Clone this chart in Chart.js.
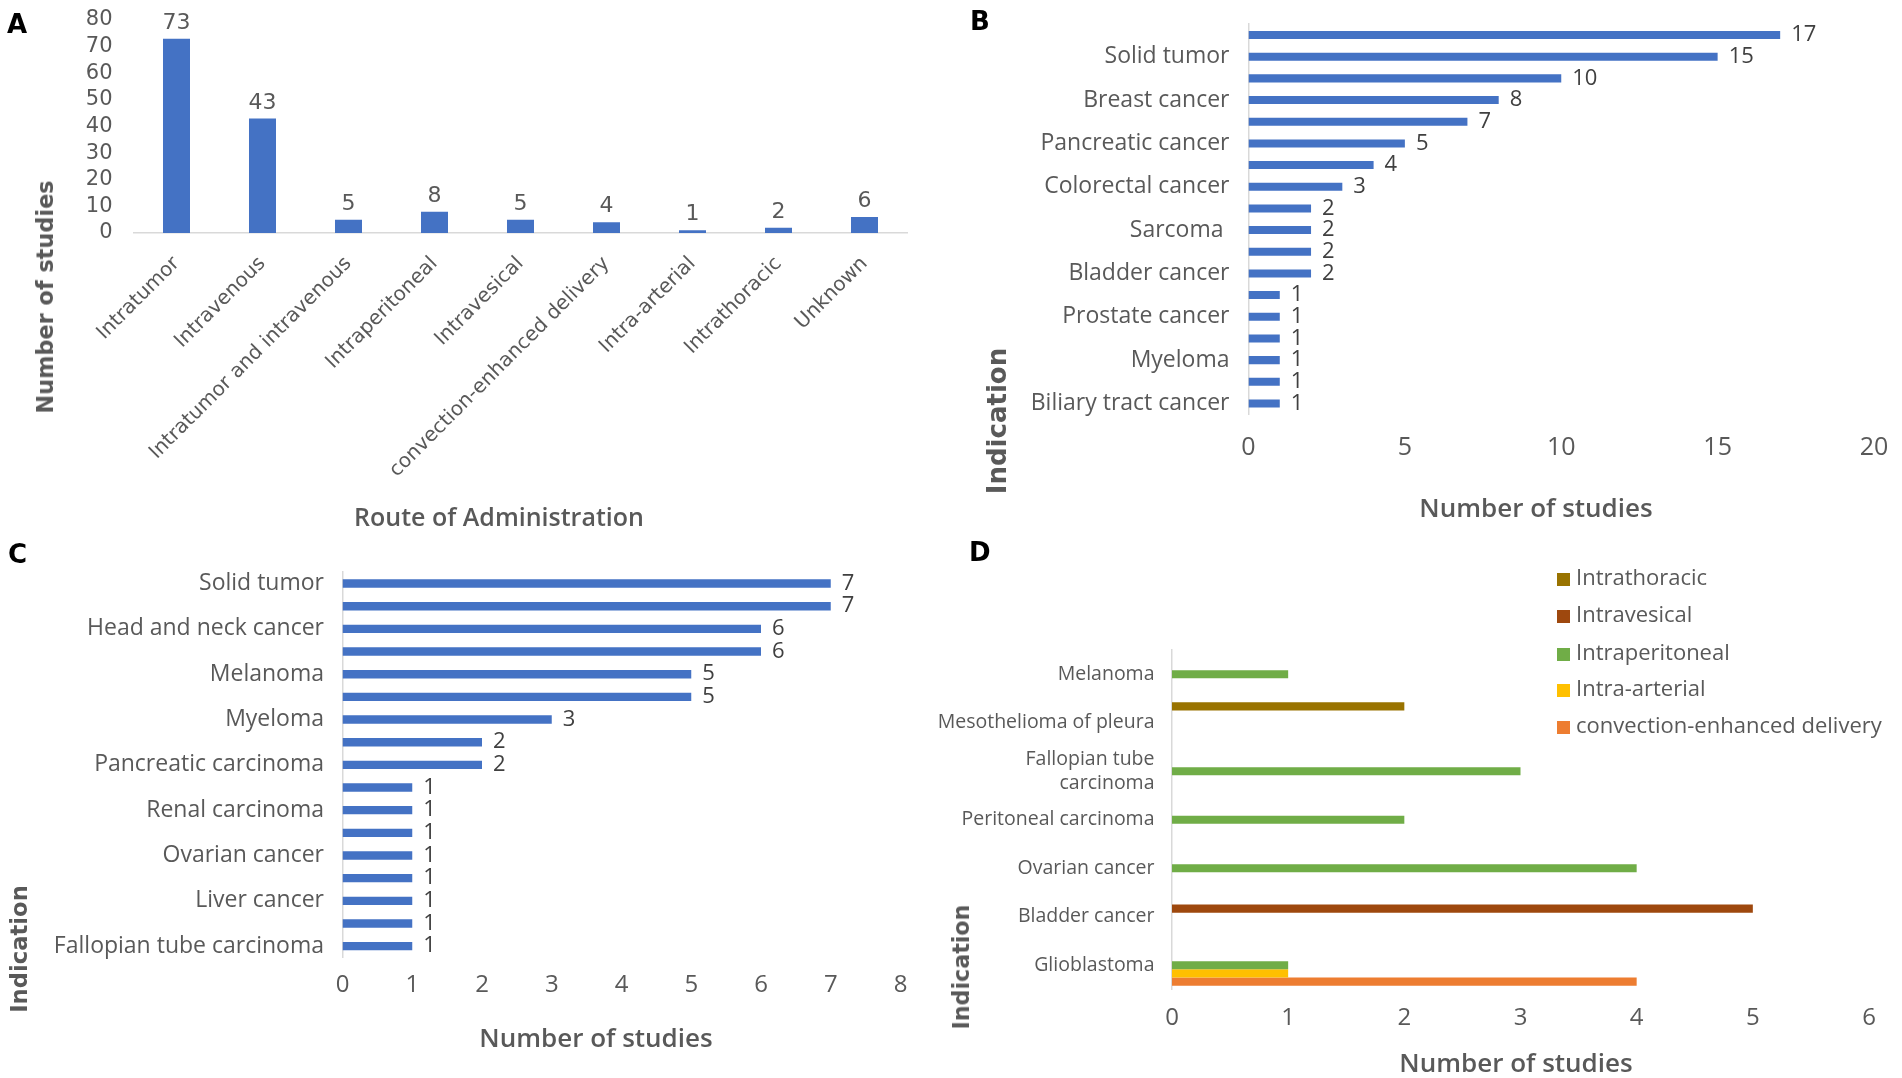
<!DOCTYPE html>
<html>
<head>
<meta charset="utf-8">
<script src="https://cdn.jsdelivr.net/npm/chart.js@4.4.1/dist/chart.umd.min.js"></script>
<style>
  body { margin: 0; background: #fff; width: 1902px; height: 1078px; position: relative; overflow: hidden; color: #595959; }
  canvas { position: absolute; }
  .letter { position: absolute; font: bold 26px "DejaVu Sans", sans-serif; color: #000; line-height: 1; }
  .t { position: absolute; white-space: nowrap; line-height: 1; transform: translate(-50%, -50%); }
  .xt { font: 600 26px "Open Sans", sans-serif; }
  .yt { font: bold 23px "DejaVu Sans", sans-serif; transform: translate(-50%, -50%) rotate(-90deg); }
  #legend { position: absolute; left: 1557px; top: 0; font: 22px "Open Sans", sans-serif; }
  #legend div { position: absolute; white-space: nowrap; line-height: 1; transform: translateY(-50%); }
  #legend span { display: inline-block; width: 13px; height: 13px; margin-right: 6px; vertical-align: -1px; }
</style>
</head>
<body>
<canvas id="chartA" width="950" height="540" style="left:0;top:0"></canvas>
<canvas id="chartB" width="951" height="540" style="left:951px;top:0"></canvas>
<canvas id="chartC" width="950" height="538" style="left:0;top:540px"></canvas>
<canvas id="chartD" width="1002" height="538" style="left:900px;top:540px"></canvas>

<div class="letter" style="left:7px;top:11px">A</div>
<div class="letter" style="left:970px;top:8px">B</div>
<div class="letter" style="left:8px;top:541px">C</div>
<div class="letter" style="left:969px;top:539px">D</div>

<div class="t yt" style="left:45px;top:297px;font-size:22.4px">Number of studies</div>
<div class="t xt" style="left:499px;top:516px;font-size:25px">Route of Administration</div>
<div class="t yt" style="left:997px;top:421px;font-size:26px">Indication</div>
<div class="t xt" style="left:1536px;top:507px">Number of studies</div>
<div class="t yt" style="left:19px;top:949px;font-size:22.7px">Indication</div>
<div class="t xt" style="left:596px;top:1037px">Number of studies</div>
<div class="t yt" style="left:961px;top:967px;font-size:22.2px">Indication</div>
<div class="t xt" style="left:1516px;top:1062px">Number of studies</div>
<div id="legend"></div>

<script>
// A: route of administration
const routeLabels = ['Intratumor', 'Intravenous', 'Intratumor and intravenous', 'Intraperitoneal', 'Intravesical',
  'convection-enhanced delivery', 'Intra-arterial', 'Intrathoracic', 'Unknown'];
const routeCounts = [73, 43, 5, 8, 5, 4, 1, 2, 6];

// B: indications, all studies (only every other label is printed in the figure)
const allLabels = ['', 'Solid tumor', '', 'Breast cancer', '', 'Pancreatic cancer', '', 'Colorectal cancer', '',
  'Sarcoma ', '', 'Bladder cancer', '', 'Prostate cancer', '', 'Myeloma', '', 'Biliary tract cancer'];
const allCounts = [17, 15, 10, 8, 7, 5, 4, 3, 2, 2, 2, 2, 1, 1, 1, 1, 1, 1];

// C: indications, intratumor and intravenous
const combLabels = ['Solid tumor', '', 'Head and neck cancer', '', 'Melanoma', '', 'Myeloma', '', 'Pancreatic carcinoma',
  '', 'Renal carcinoma', '', 'Ovarian cancer', '', 'Liver cancer', '', 'Fallopian tube carcinoma'];
const combCounts = [7, 7, 6, 6, 5, 5, 3, 2, 2, 1, 1, 1, 1, 1, 1, 1, 1];

// D: indications by local route
const localLabels = ['Melanoma', 'Mesothelioma of pleura', ['Fallopian tube', 'carcinoma'], 'Peritoneal carcinoma',
  'Ovarian cancer', 'Bladder cancer', 'Glioblastoma'];
const localRoutes = ['Intrathoracic', 'Intravesical', 'Intraperitoneal', 'Intra-arterial', 'convection-enhanced delivery'];
const intrathoracic = [null, 2, null, null, null, null, null];
const intravesical = [null, null, null, null, null, 5, null];
const intraperitoneal = [1, null, 3, 2, 4, null, 1];
const intraArterial = [null, null, null, null, null, null, 1];
const convectionEnhanced = [null, null, null, null, null, null, 4];
const routeColors = ['#997300', '#9E480E', '#70AD47', '#FFC000', '#ED7D31'];

const BLUE = '#4472C4';
const GREY = '#595959';
const LINE = '#D9D9D9';

// draws the number at the end of every bar
const valueLabels = {
  id: 'valueLabels',
  afterDatasetsDraw(chart, args, opts) {
    const ctx = chart.ctx;
    const horizontal = chart.options.indexAxis === 'y';
    ctx.save();
    ctx.font = opts.font;
    ctx.fillStyle = opts.color;
    chart.data.datasets.forEach((ds, i) => {
      chart.getDatasetMeta(i).data.forEach((bar, j) => {
        const v = ds.data[j];
        if (v == null) return;
        if (horizontal) {
          ctx.textAlign = 'left';
          ctx.textBaseline = 'middle';
          ctx.fillText(v, bar.x + opts.offset, bar.y);
        } else {
          ctx.textAlign = 'center';
          ctx.textBaseline = 'alphabetic';
          ctx.fillText(v, bar.x, bar.y - opts.offset);
        }
      });
    });
    ctx.restore();
  }
};

Chart.defaults.color = GREY;
Chart.defaults.animation = false;
Chart.defaults.plugins.legend.display = false;
Chart.defaults.plugins.tooltip.enabled = false;

// pin axis sizes so the plot areas land where they are in the figure
function fixWidth(w) { return s => { s.width = w; s.paddingTop = 0; s.paddingBottom = 0; }; }
function fixHeight(h) { return s => { s.height = h; s.paddingLeft = 0; s.paddingRight = 0; }; }

// A
new Chart(document.getElementById('chartA'), {
  type: 'bar',
  data: { labels: routeLabels, datasets: [{ data: routeCounts, backgroundColor: BLUE, barPercentage: 0.314, categoryPercentage: 1 }] },
  plugins: [valueLabels],
  options: {
    responsive: false,
    layout: { padding: { top: 20, right: 42.5, bottom: 0, left: 0 } },
    plugins: { valueLabels: { font: '22px "DejaVu Sans"', color: GREY, offset: 10 } },
    scales: {
      x: {
        grid: { display: false },
        border: { display: true, color: LINE, width: 1.5 },
        ticks: { minRotation: 45, maxRotation: 45, padding: 11, font: { family: 'DejaVu Sans', size: 20 }, color: GREY },
        afterFit: fixHeight(307)
      },
      y: {
        min: 0, max: 80,
        grid: { display: false },
        border: { display: false },
        ticks: { stepSize: 10, autoSkip: false, padding: 13, font: { family: 'DejaVu Sans', size: 21 }, color: GREY },
        afterFit: fixWidth(133.5)
      }
    }
  }
});

function horizontalBars(id, labels, counts, o) {
  return new Chart(document.getElementById(id), {
    type: 'bar',
    data: { labels: labels, datasets: [{ data: counts, backgroundColor: BLUE, barPercentage: 0.37, categoryPercentage: 1 }] },
    plugins: [valueLabels],
    options: {
      indexAxis: 'y',
      responsive: false,
      layout: { padding: { top: o.top, right: o.right, bottom: 0, left: 0 } },
      plugins: { valueLabels: { font: '22px "Open Sans"', color: '#404040', offset: 11 } },
      scales: {
        x: {
          min: 0, max: o.max,
          grid: { display: false },
          border: { display: false },
          ticks: { stepSize: o.step, padding: o.xPad, font: { family: 'Open Sans', size: o.tickSize }, color: GREY },
          afterFit: fixHeight(o.xHeight)
        },
        y: {
          grid: { display: false },
          border: { display: true, color: LINE, width: 1.5 },
          ticks: { autoSkip: false, padding: o.yPad, font: { family: 'Open Sans', size: 23 }, color: GREY },
          afterFit: fixWidth(o.left)
        }
      }
    }
  });
}

// B
horizontalBars('chartB', allLabels, allCounts,
  { top: 24.2, right: 28, left: 297.5, xHeight: 125.7, max: 20, step: 5, xPad: 10.5, yPad: 11, tickSize: 25 });

// C
horizontalBars('chartC', combLabels, combCounts,
  { top: 32.2, right: 49.5, left: 342.5, xHeight: 120.5, max: 8, step: 1, xPad: 5, yPad: 10.5, tickSize: 24 });

// D
const localSeries = [intrathoracic, intravesical, intraperitoneal, intraArterial, convectionEnhanced];
new Chart(document.getElementById('chartD'), {
  type: 'bar',
  data: {
    labels: localLabels,
    datasets: localSeries.map((d, i) => ({
      label: localRoutes[i], data: d, backgroundColor: routeColors[i], barPercentage: 1, categoryPercentage: 0.85
    }))
  },
  options: {
    indexAxis: 'y',
    responsive: false,
    layout: { padding: { top: 110, right: 33, bottom: 0, left: 0 } },
    scales: {
      x: {
        min: 0, max: 6,
        grid: { display: false },
        border: { display: false },
        ticks: { stepSize: 1, padding: 6, font: { family: 'Open Sans', size: 24 }, color: GREY },
        afterFit: fixHeight(88.5)
      },
      y: {
        grid: { display: false },
        border: { display: true, color: LINE, width: 1.5 },
        ticks: { autoSkip: false, padding: 9.5, font: { family: 'Open Sans', size: 19.5 }, color: GREY },
        afterFit: fixWidth(272)
      }
    }
  }
});

// legend for D, built from the same series names and colours
const legendY = [576, 613, 651, 687, 724];
const legend = document.getElementById('legend');
localRoutes.forEach((name, i) => {
  const item = document.createElement('div');
  item.style.top = legendY[i] + 'px';
  item.innerHTML = '<span style="background:' + routeColors[i] + '"></span>' + name;
  legend.appendChild(item);
});
</script>
</body>
</html>
